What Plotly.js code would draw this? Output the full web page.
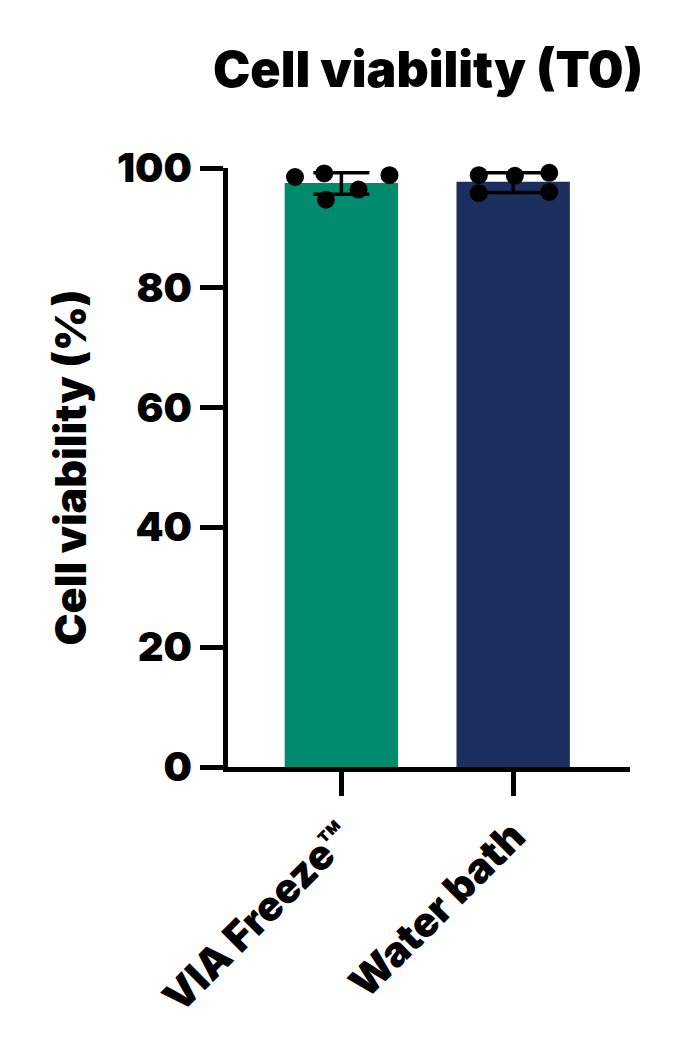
<!DOCTYPE html>
<html>
<head>
<meta charset="utf-8">
<script src="https://cdn.plot.ly/plotly-3.0.1.min.js"></script>
<style>html,body{margin:0;padding:0;background:#fff;}#chart{width:687px;height:1049px;}</style>
</head>
<body>
<div id="chart"></div>
<script>
// Data
var categories = ["VIA Freeze™", "Water bath"];
var barMeans = [97.5, 97.7];
var errPlus = [1.7, 1.5];
var errMinus = [1.9, 1.8];
var barColors = ["#008A6E", "#1C2F5F"];
// individual replicate points
var viaValues = [98.5, 99.1, 94.7, 96.4, 98.8];
var viaJitter = [-0.27, -0.10, -0.09, 0.10, 0.28];
var wbValues = [98.8, 95.8, 98.7, 99.2, 96.0];
var wbJitter = [-0.20, -0.20, 0.01, 0.21, 0.21];
var yTicks = [0, 20, 40, 60, 80, 100];

var catIdx = categories.map(function(_, i){ return i; });
var ptX = viaJitter.map(function(j){ return 0 + j; }).concat(wbJitter.map(function(j){ return 1 + j; }));
var ptY = viaValues.concat(wbValues);

var FONT = "Inter, 'Liberation Sans', Arial, sans-serif";
var W = 900;

var traces = [
  {
    type: "bar",
    x: catIdx,
    y: barMeans,
    width: 0.66,
    marker: {color: barColors, line: {width: 0}},
    error_y: {type: "data", symmetric: false, array: errPlus, arrayminus: errMinus,
              color: "#000", thickness: 3.5, width: 28},
    hoverinfo: "skip",
    showlegend: false
  },
  {
    type: "scatter",
    mode: "markers",
    x: ptX,
    y: ptY,
    marker: {color: "#000", size: 18},
    showlegend: false,
    hoverinfo: "skip",
    cliponaxis: false
  }
];

var layout = {
  width: 687,
  height: 1049,
  margin: {l: 228, r: 57, t: 168, b: 282},
  paper_bgcolor: "#fff",
  plot_bgcolor: "#fff",
  showlegend: false,
  font: {family: FONT, color: "#000", weight: W},
  title: {
    text: "Cell viability (T0)",
    font: {family: FONT, size: 50, color: "#000", weight: W},
    xref: "container", x: 0.623, xanchor: "center",
    yref: "container", y: 0.934, yanchor: "middle"
  },
  xaxis: {
    range: [-0.66, 1.68],
    tickmode: "array",
    tickvals: catIdx,
    ticktext: categories,
    tickangle: -45,
    ticks: "outside", ticklen: 24, tickwidth: 5, tickcolor: "#000",
    showline: true, linewidth: 5, linecolor: "#000",
    showgrid: false, zeroline: false,
    tickfont: {family: FONT, size: 41, color: "#000", weight: W},
    fixedrange: true
  },
  yaxis: {
    range: [0, 100],
    tickmode: "array",
    tickvals: yTicks,
    ticktext: yTicks.map(String),
    ticks: "outside", ticklen: 23, tickwidth: 5, tickcolor: "#000",
    showline: true, linewidth: 5, linecolor: "#000",
    showgrid: false, zeroline: false,
    tickfont: {family: FONT, size: 40, color: "#000", weight: W},
    title: {text: "Cell viability (%)", font: {family: FONT, size: 43, color: "#000", weight: W}, standoff: 18},
    fixedrange: true
  }
};

Plotly.newPlot("chart", traces, layout, {displayModeBar: false, staticPlot: true});
</script>
</body>
</html>
